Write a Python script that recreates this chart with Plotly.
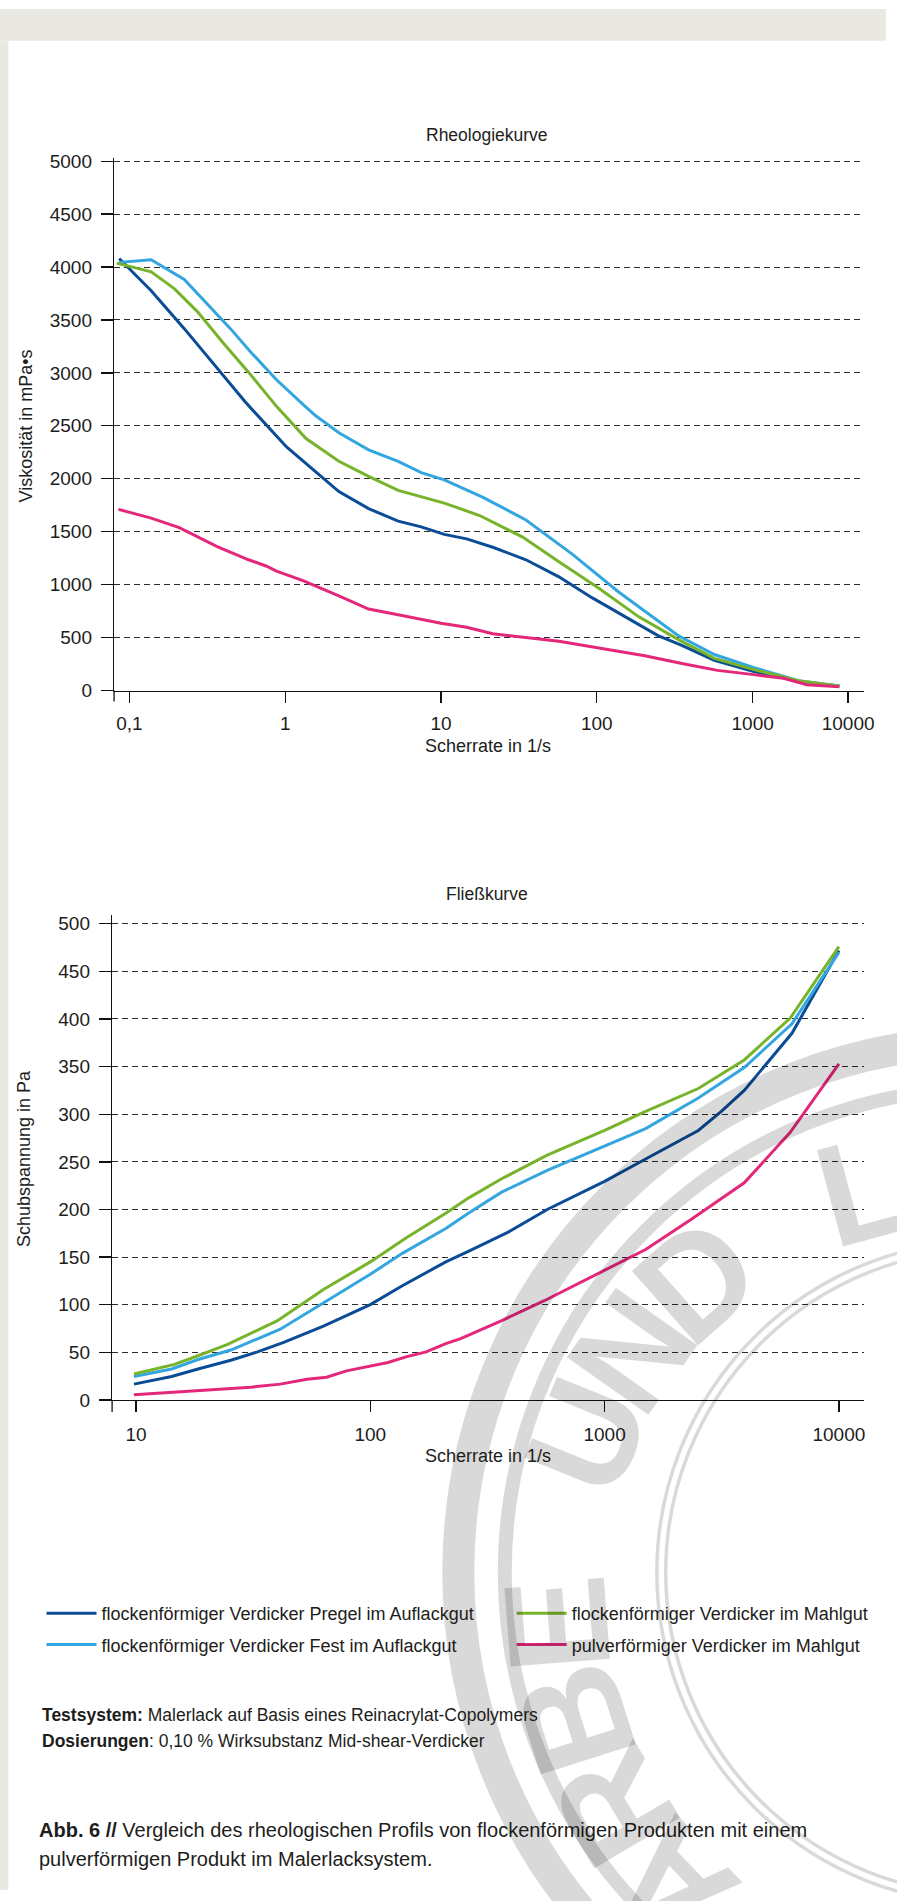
import math
import plotly.graph_objects as go

W, H = 897, 1901

# ---------------- data ----------------
series_names = [
    "flockenförmiger Verdicker Pregel im Auflackgut",
    "flockenförmiger Verdicker Fest im Auflackgut",
    "flockenförmiger Verdicker im Mahlgut",
    "pulverförmiger Verdicker im Mahlgut",
]
series_colors = ["#0b4c97", "#34a6df", "#77b32b", "#e3287a"]

# Rheologiekurve: viscosity (mPa*s) vs shear rate, read along the drawn axis
rheo_pregel_x = [0.086, 0.138, 0.225, 0.385, 0.553, 1.02, 1.50, 2.21, 3.43, 5.31, 7.46, 10.5,
                 14.6, 21.5, 35.1, 57.1, 93, 152, 247, 348, 568, 1019, 1745, 2228, 3600]
rheo_pregel_y = [4080, 3776, 3418, 3006, 2727, 2300, 2090, 1879, 1718, 1600, 1546, 1475,
                 1432, 1353, 1235, 1074, 877, 698, 519, 429, 286, 179, 107, 72, 43]

rheo_fest_x = [0.086, 0.138, 0.225, 0.333, 0.445, 0.596, 0.879, 1.30, 1.57, 2.21, 3.43, 5.31,
               7.46, 10.5, 18.6, 35.1, 69.5, 138, 247, 332, 568, 1019, 2018, 3600]
rheo_fest_y = [4044, 4069, 3883, 3615, 3418, 3203, 2935, 2702, 2595, 2434, 2273, 2165,
               2058, 1990, 1825, 1611, 1288, 931, 662, 519, 340, 215, 89, 43]

rheo_mahl_x = [0.083, 0.138, 0.195, 0.273, 0.404, 0.596, 0.879, 1.36, 2.21, 3.43, 5.31, 7.46,
               10.5, 17.7, 33.4, 57.1, 103, 185, 332, 568, 1019, 2018, 3600]
rheo_mahl_y = [4037, 3955, 3794, 3579, 3275, 2988, 2684, 2380, 2165, 2022, 1890, 1832,
               1770, 1653, 1449, 1217, 966, 698, 483, 304, 197, 89, 43]

rheo_pulver_x = [0.085, 0.138, 0.209, 0.366, 0.582, 0.760, 0.879, 1.30, 2.21, 3.43, 5.31, 10.0,
                 14.6, 21.5, 57.1, 152, 203, 365, 596, 1019, 1580, 2228, 3600]
rheo_pulver_y = [1711, 1628, 1539, 1360, 1235, 1174, 1127, 1038, 895, 769, 716, 635,
                 598, 537, 465, 358, 329, 251, 190, 150, 115, 54, 36]

# Fließkurve: shear stress (Pa) vs shear rate (1/s)
flow_pregel_x = [9.8, 14.2, 18.4, 25.4, 33.0, 42.7, 63.1, 100, 137, 210, 262, 386, 569,
                 1000, 1497, 2512, 3150, 3945, 6305, 10000]
flow_pregel_y = [16.7, 24.7, 32.6, 41.8, 50.5, 60.5, 77.6, 100.2, 120, 145, 156, 176, 200,
                 229.5, 253, 283, 303, 325, 385, 472]

flow_fest_x = [9.8, 14.2, 18.4, 25.4, 41.3, 63.1, 100, 137, 210, 262, 362, 569, 1000,
               1497, 2512, 3945, 6305, 10000]
flow_fest_y = [24.7, 32.6, 42.6, 52.5, 74.4, 102, 132, 154, 180, 196, 218, 241, 267,
               285, 317, 349, 395, 470]

flow_mahl_x = [9.8, 14.6, 18.4, 24.6, 40.0, 63.1, 100, 142, 210, 262, 362, 569, 1000,
               1497, 2512, 3945, 6200, 10000]
flow_mahl_y = [27.4, 37.4, 46.5, 58.5, 83.1, 116, 145, 170, 196, 212, 232, 257, 283,
               303, 327, 357, 401, 476]

flow_pulver_x = [9.8, 15.1, 25.4, 30.9, 41.3, 53.6, 65.1, 79.1, 119, 142, 173, 210, 243,
                 362, 550, 893, 1497, 2355, 3945, 6200, 10000]
flow_pulver_y = [5.6, 8.8, 11.9, 13.5, 16.7, 21.9, 23.9, 30.6, 39.4, 45.3, 50.5, 59.3, 64.4,
                 83.1, 104, 130, 158, 190, 228, 281, 353]

# axis ticks (the last tick of the upper chart sits where the original drew it)
rheo_tickvals = [0.1, 1, 10, 100, 1000, 4100]
rheo_ticktext = ["0,1", "1", "10", "100", "1000", "10000"]
flow_tickvals = [10, 100, 1000, 10000]
flow_ticktext = ["10", "100", "1000", "10000"]

rheo_x = [rheo_pregel_x, rheo_fest_x, rheo_mahl_x, rheo_pulver_x]
rheo_y = [rheo_pregel_y, rheo_fest_y, rheo_mahl_y, rheo_pulver_y]
flow_x = [flow_pregel_x, flow_fest_x, flow_mahl_x, flow_pulver_x]
flow_y = [flow_pregel_y, flow_fest_y, flow_mahl_y, flow_pulver_y]

# ---------------- decoration: background stamp (watermark) ----------------
watermark_letters = ["F", "A", "R", "B", "E", "U", "N", "D", "L"]
watermark_angles = [122.8, 136.0, 149.2, 162.4, 175.6, 202.0, 215.2, 228.4, 254.8]
watermark_radius = 422


# ---------------- helpers ----------------
def X(px):
    return px / W


def Y(py):
    return 1 - py / H


FONT = "Liberation Sans, Arial, Helvetica, sans-serif"
TXT = "#1d1d1b"

fig = go.Figure()

legend_of = ["legend", "legend", "legend2", "legend2"]
for i in range(4):
    fig.add_trace(go.Scatter(
        x=rheo_x[i], y=rheo_y[i], mode="lines", name=series_names[i],
        line=dict(color=series_colors[i], width=3),
        xaxis="x", yaxis="y", showlegend=False, legendgroup=series_names[i],
        hoverinfo="skip"))
for i in range(4):
    fig.add_trace(go.Scatter(
        x=flow_x[i], y=flow_y[i], mode="lines", name=series_names[i],
        line=dict(color=series_colors[i], width=3),
        xaxis="x2", yaxis="y2", showlegend=True, legendgroup=series_names[i],
        legend=legend_of[i], hoverinfo="skip"))

# plot-area geometry (px)
top_l, top_r, top_t, top_b = 115.5, 874.3, 152.0, 689.4
bot_l, bot_r, bot_t, bot_b = 113.5, 874.3, 916.6, 1406.1

grid = dict(showgrid=True, gridcolor="#2b2b2b", gridwidth=1, griddash="6px,4px")
axis_common = dict(showline=True, linecolor="#111", linewidth=1.3, ticks="outside",
                   tickcolor="#111", tickwidth=1.3, zeroline=False,
                   tickfont=dict(family=FONT, size=19, color=TXT))

fig.update_layout(
    width=W, height=H, autosize=False,
    margin=dict(l=0, r=0, t=0, b=0),
    paper_bgcolor="white", plot_bgcolor="white",
    font=dict(family=FONT, color=TXT),
    hovermode=False,
    xaxis=dict(type="log", range=[-1.0983, 3.712], domain=[X(top_l), X(top_r)], anchor="y",
               tickvals=rheo_tickvals, ticktext=rheo_ticktext, ticklen=11,
               ticklabelstandoff=4, showgrid=False, **axis_common),
    yaxis=dict(range=[0, 5025.3], domain=[Y(top_b), Y(top_t)], anchor="x",
               tickvals=list(range(0, 5001, 500)), ticklen=12, ticklabelstandoff=5,
               **grid, **axis_common),
    xaxis2=dict(type="log", range=[0.898, 4.1054], domain=[X(bot_l), X(bot_r)], anchor="y2",
                tickvals=flow_tickvals, ticktext=flow_ticktext, ticklen=11,
                ticklabelstandoff=6, showgrid=False, **axis_common),
    yaxis2=dict(range=[0, 508.7], domain=[Y(bot_b), Y(bot_t)], anchor="x2",
                tickvals=list(range(0, 501, 50)), ticklen=12, ticklabelstandoff=5,
                **grid, **axis_common),
    legend=dict(x=X(42), y=Y(1603), xanchor="left", yanchor="top", orientation="v",
                font=dict(family=FONT, size=18, color=TXT), itemwidth=50,
                traceorder="grouped", tracegroupgap=5, bgcolor="rgba(0,0,0,0)"),
    legend2=dict(x=X(518), y=Y(1603), xanchor="left", yanchor="top", orientation="v",
                 font=dict(family=FONT, size=18, color=TXT), itemwidth=50,
                 traceorder="grouped", tracegroupgap=5, bgcolor="rgba(0,0,0,0)"),
)

shapes = []
# page frame (grey band top and left)
shapes.append(dict(type="rect", xref="paper", yref="paper", x0=0, x1=1, y0=Y(33), y1=Y(1),
                   fillcolor="#e9e8e3", line=dict(width=0), layer="below"))
shapes.append(dict(type="rect", xref="paper", yref="paper", x0=0, x1=X(8.5), y0=0, y1=Y(33),
                   fillcolor="#e9e8e3", line=dict(width=0), layer="below"))
# y-axis extensions below the x axis
shapes.append(dict(type="line", xref="paper", yref="paper", x0=X(top_l), x1=X(top_l),
                   y0=Y(top_b), y1=Y(top_b + 11), line=dict(color="#111", width=1.3)))
shapes.append(dict(type="line", xref="paper", yref="paper", x0=X(bot_l), x1=X(bot_l),
                   y0=Y(bot_b), y1=Y(bot_b + 12), line=dict(color="#111", width=1.3)))
# watermark stamp rings
wm_cx, wm_cy = 1000, 1580
wm_col = "rgba(0,0,0,0.15)"
for r, w in [(536, 32), (489, 14), (326, 3.5), (335, 3.5)]:
    shapes.append(dict(type="circle", xref="paper", yref="paper",
                       x0=X(wm_cx - r), x1=X(wm_cx + r), y0=Y(wm_cy + r), y1=Y(wm_cy - r),
                       line=dict(color=wm_col, width=w), fillcolor="rgba(0,0,0,0)",
                       layer="above"))
fig.update_layout(shapes=shapes)

ann = []


def text(px, py, s, size=17.5, xanchor="center", angle=0):
    ann.append(dict(x=X(px), y=Y(py), xref="paper", yref="paper", text=s, showarrow=False,
                    xanchor=xanchor, yanchor="middle", textangle=angle,
                    font=dict(family=FONT, size=size, color=TXT)))


text(493.5, 128, "Rheologiekurve")
text(493.5, 895, "Fließkurve")
text(494, 745, "Scherrate in 1/s", size=18)
text(494, 1463, "Scherrate in 1/s", size=18)
text(26, 422, "Viskosität in mPa•s", size=18, angle=-90)
text(25, 1162, "Schubspannung in Pa", size=18, angle=-90)
text(40, 1724, "<b>Testsystem:</b> Malerlack auf Basis eines Reinacrylat-Copolymers", xanchor="left")
text(40, 1750, "<b>Dosierungen</b>: 0,10 % Wirksubstanz Mid-shear-Verdicker", xanchor="left")
text(37, 1840, "<b>Abb. 6 //</b> Vergleich des rheologischen Profils von flockenförmigen Produkten mit einem",
     size=20, xanchor="left")
text(37, 1870, "pulverförmigen Produkt im Malerlacksystem.", size=20, xanchor="left")

# watermark letters along the stamp ring
lc_x, lc_y = 985, 1600
for ch, th in zip(watermark_letters, watermark_angles):
    t = math.radians(th)
    ann.append(dict(x=X(lc_x + watermark_radius * math.cos(t)),
                    y=Y(lc_y + watermark_radius * math.sin(t)),
                    xref="paper", yref="paper", text="<b>" + ch + "</b>", showarrow=False,
                    xanchor="center", yanchor="middle", textangle=th - 270,
                    font=dict(family=FONT, size=145, color=wm_col)))
fig.update_layout(annotations=ann)

# remove the browser's default 8px page margin so the figure starts at the window corner
fig.write_html("out.html", config={"displayModeBar": False, "staticPlot": True},
               post_script="document.body.style.margin='0px';")
